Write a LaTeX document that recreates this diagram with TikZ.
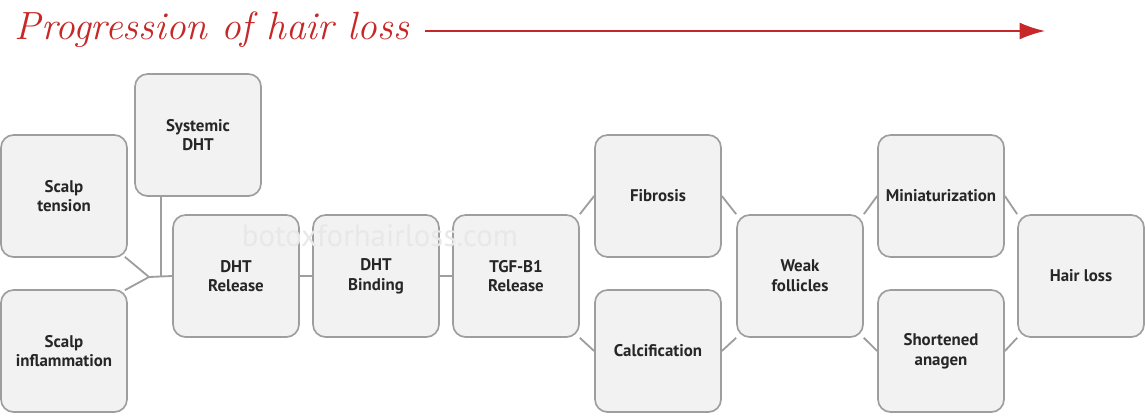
\documentclass[tikz,border=0pt]{standalone}
\usepackage{fontspec}
\setsansfont{PT Sans}
\usepackage{tikz}
\usetikzlibrary{positioning,calc,arrows.meta}

\definecolor{boxfill}{HTML}{F2F2F2}
\definecolor{boxline}{HTML}{9E9E9E}
\definecolor{titlered}{HTML}{C62828}

\tikzset{
    stage/.style={draw=boxline, line width=1.2pt, fill=boxfill, rounded corners=9pt,
        minimum width=3.15cm, minimum height=3.05cm, align=center,
        font=\sffamily\bfseries\large, text=black!85},
    link/.style={draw=boxline, line width=1.3pt}
}

\begin{document}
\begin{tikzpicture}[x=0.025cm, y=-0.025cm]
    \useasboundingbox (0,0) rectangle (1145,417);

    % Title and progression arrow
    \node[anchor=west, text=titlered, font=\itshape\fontsize{28}{30}\selectfont] (title) at (10,30) {Progression of hair loss};
    \coordinate (arrS) at (425,31);
    \coordinate (arrE) at (1045,31);
    \draw[titlered, line width=1.3pt, -{Latex[length=18pt,width=12pt]}] (arrS) -- (arrE);

    % Stages
    \node[stage] (tension) at (64,196) {Scalp\\tension};
    \node[stage] (inflam) at (64,351) {Scalp\\inflammation};
    \node[stage] (systemic) at (198,135) {Systemic\\DHT};
    \node[stage] (release) at (236,276) {DHT\\Release};
    \node[stage] (binding) at (376,276) {DHT\\Binding};
    \node[stage] (tgf) at (516,276) {TGF-B1\\Release};
    \node[stage] (fibrosis) at (658,196) {Fibrosis};
    \node[stage] (calc) at (658,351) {Calcification};
    \node[stage] (weak) at (800,276) {Weak\\follicles};
    \node[stage] (mini) at (941,196) {Miniaturization};
    \node[stage] (short) at (941,351) {Shortened\\anagen};
    \node[stage] (loss) at (1081,276) {Hair loss};

    % Watermark
    \node[text=black!9, font=\sffamily\fontsize{22}{24}\selectfont] (mark) at (380,236) {botoxforhairloss.com};

    % Connectors
    \coordinate (join) at (149,277);
    \coordinate (sysfoot) at (161,196);
    \coordinate (sysjoin) at (161,277);
    \draw[link] (tension.south east) ++(-3,-1) -- (join);
    \draw[link] (inflam.north east) ++(-3,1) -- (join);
    \draw[link] (join) -- (release.west);
    \draw[link] (sysfoot) -- (sysjoin);
    \draw[link] (release) -- (binding);
    \draw[link] (binding) -- (tgf);
    \draw[link] (tgf.north east) -- (fibrosis.west);
    \draw[link] (tgf.south east) -- (calc.west);
    \draw[link] (fibrosis.east) -- (weak.north west);
    \draw[link] (calc.east) -- (weak.south west);
    \draw[link] (weak.north east) -- (mini.west);
    \draw[link] (weak.south east) -- (short.west);
    \draw[link] (mini.east) -- (loss.north west);
    \draw[link] (short.east) -- (loss.south west);
\end{tikzpicture}
\end{document}
